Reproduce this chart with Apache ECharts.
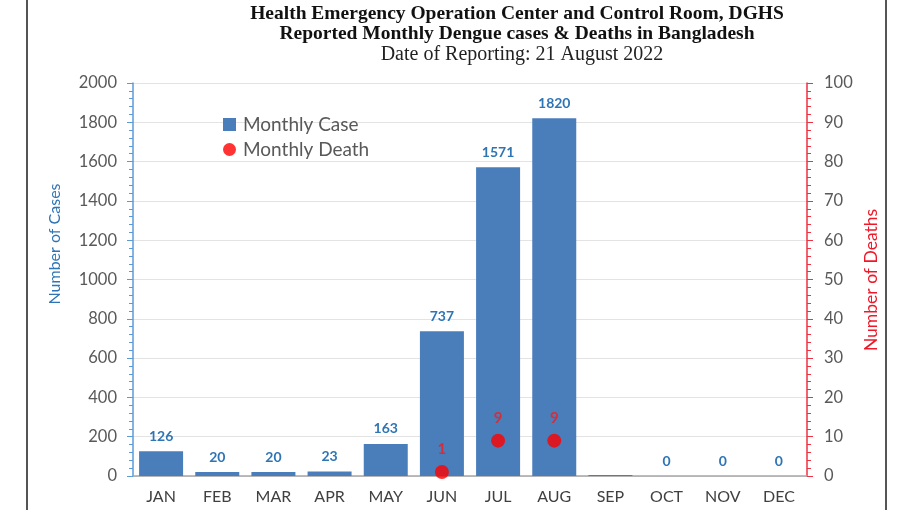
<!DOCTYPE html>
<html><head><meta charset="utf-8">
<script src="https://cdn.jsdelivr.net/npm/echarts@6/dist/echarts.min.js"></script>
<style>html,body{margin:0;padding:0;background:#fff}#c{width:910px;height:510px}</style>
</head><body><div id="c"></div>
<script>
const months = ['JAN','FEB','MAR','APR','MAY','JUN','JUL','AUG','SEP','OCT','NOV','DEC'];
const cases = [126, 20, 20, 23, 163, 737, 1571, 1820, 5, 0, 0, 0];
const caseLabels = ['126','20','20','23','163','737','1571','1820','','0','0','0'];
const deaths = [null, null, null, null, null, 1, 9, 9, null, null, null, null];
const caseTicks = [0, 200, 400, 600, 800, 1000, 1200, 1400, 1600, 1800, 2000];
const deathTicks = [0, 10, 20, 30, 40, 50, 60, 70, 80, 90, 100];

const FONT = 'Lato, "Open Sans", sans-serif';
const SERIF = '"Liberation Serif", serif';
const chart = echarts.init(document.getElementById('c'));
chart.setOption({
  backgroundColor: '#fff',
  animation: false,
  title: [
    {text: 'Health Emergency Operation Center and Control Room, DGHS', left: 512, textAlign: 'center', top: -1,
     textStyle: {fontFamily: SERIF, fontWeight: 'bold', fontSize: 19.5, color: '#111'}},
    {text: 'Reported Monthly Dengue cases & Deaths in Bangladesh', left: 512, textAlign: 'center', top: 19,
     textStyle: {fontFamily: SERIF, fontWeight: 'bold', fontSize: 19.5, color: '#111'}},
    {text: 'Date of Reporting: 21 August 2022', left: 517, textAlign: 'center', top: 40,
     textStyle: {fontFamily: SERIF, fontWeight: 'normal', fontSize: 20, color: '#222'}}
  ],
  legend: {
    orient: 'vertical', left: 218, top: 110, itemGap: 6, itemWidth: 13, itemHeight: 13,
    textStyle: {fontFamily: FONT, fontSize: 19, color: '#595959', padding: [0, 0, 0, 2]},
    data: [{name: 'Monthly Case', icon: 'rect'}, {name: 'Monthly Death', icon: 'circle'}]
  },
  grid: {left: 133, right: 103, top: 83, bottom: 34},
  xAxis: {
    type: 'category', data: months,
    axisLine: {lineStyle: {color: '#a6a6a6', width: 1.5}},
    axisTick: {show: false},
    axisLabel: {fontFamily: FONT, fontSize: 16, color: '#404040', margin: 13}
  },
  yAxis: [
    {type: 'value', min: caseTicks[0], max: caseTicks[caseTicks.length - 1], interval: caseTicks[1] - caseTicks[0],
     axisLine: {show: true, lineStyle: {color: '#5B9BD5', width: 1.5}},
     axisTick: {show: true, length: 6, lineStyle: {color: '#5B9BD5'}},
     minorTick: {show: true, splitNumber: 5, length: 4, lineStyle: {color: '#5B9BD5'}},
     axisLabel: {fontFamily: FONT, fontSize: 16.5, color: '#595959', margin: 16, formatter: v => String(v)},
     splitLine: {show: true, lineStyle: {color: '#e3e3e3'}}},
    {type: 'value', min: deathTicks[0], max: deathTicks[deathTicks.length - 1], interval: deathTicks[1] - deathTicks[0],
     position: 'right',
     axisLine: {show: true, lineStyle: {color: '#F03040', width: 1.5}},
     axisTick: {show: true, length: 6, lineStyle: {color: '#F03040'}},
     minorTick: {show: true, splitNumber: 5, length: 4, lineStyle: {color: '#F03040'}},
     axisLabel: {fontFamily: FONT, fontSize: 16.5, color: '#595959', margin: 17, formatter: v => String(v)},
     splitLine: {show: false}}
  ],
  graphic: [
    {type: 'line', shape: {x1: 27, y1: 0, x2: 27, y2: 510}, style: {stroke: '#555', lineWidth: 2}},
    {type: 'line', shape: {x1: 886, y1: 0, x2: 886, y2: 510}, style: {stroke: '#555', lineWidth: 2}},
    {type: 'text', x: 55, y: 244, rotation: Math.PI / 2,
     style: {text: 'Number of Cases', fill: '#2E75B6', font: '16px ' + FONT, align: 'center', verticalAlign: 'middle'}},
    {type: 'text', x: 871, y: 280, rotation: Math.PI / 2,
     style: {text: 'Number of Deaths', fill: '#F01828', font: '17.5px ' + FONT, align: 'center', verticalAlign: 'middle'}}
  ],
  series: [
    {name: 'Monthly Case', type: 'bar', yAxisIndex: 0, data: cases, barWidth: 44,
     itemStyle: {color: '#4A7EBB'},
     label: {show: true, position: 'top', distance: 8, fontFamily: FONT, fontWeight: 'bold', fontSize: 14, color: '#2E75B6',
       formatter: p => caseLabels[p.dataIndex]}},
    {name: 'Monthly Death', type: 'scatter', yAxisIndex: 1, data: deaths, symbol: 'circle', symbolSize: 14,
     itemStyle: {color: '#FF0000'},
     label: {show: true, position: 'top', distance: 8, fontFamily: FONT, fontWeight: 'bold', fontSize: 15, color: '#F51A1A'}}
  ]
});
</script></body></html>
